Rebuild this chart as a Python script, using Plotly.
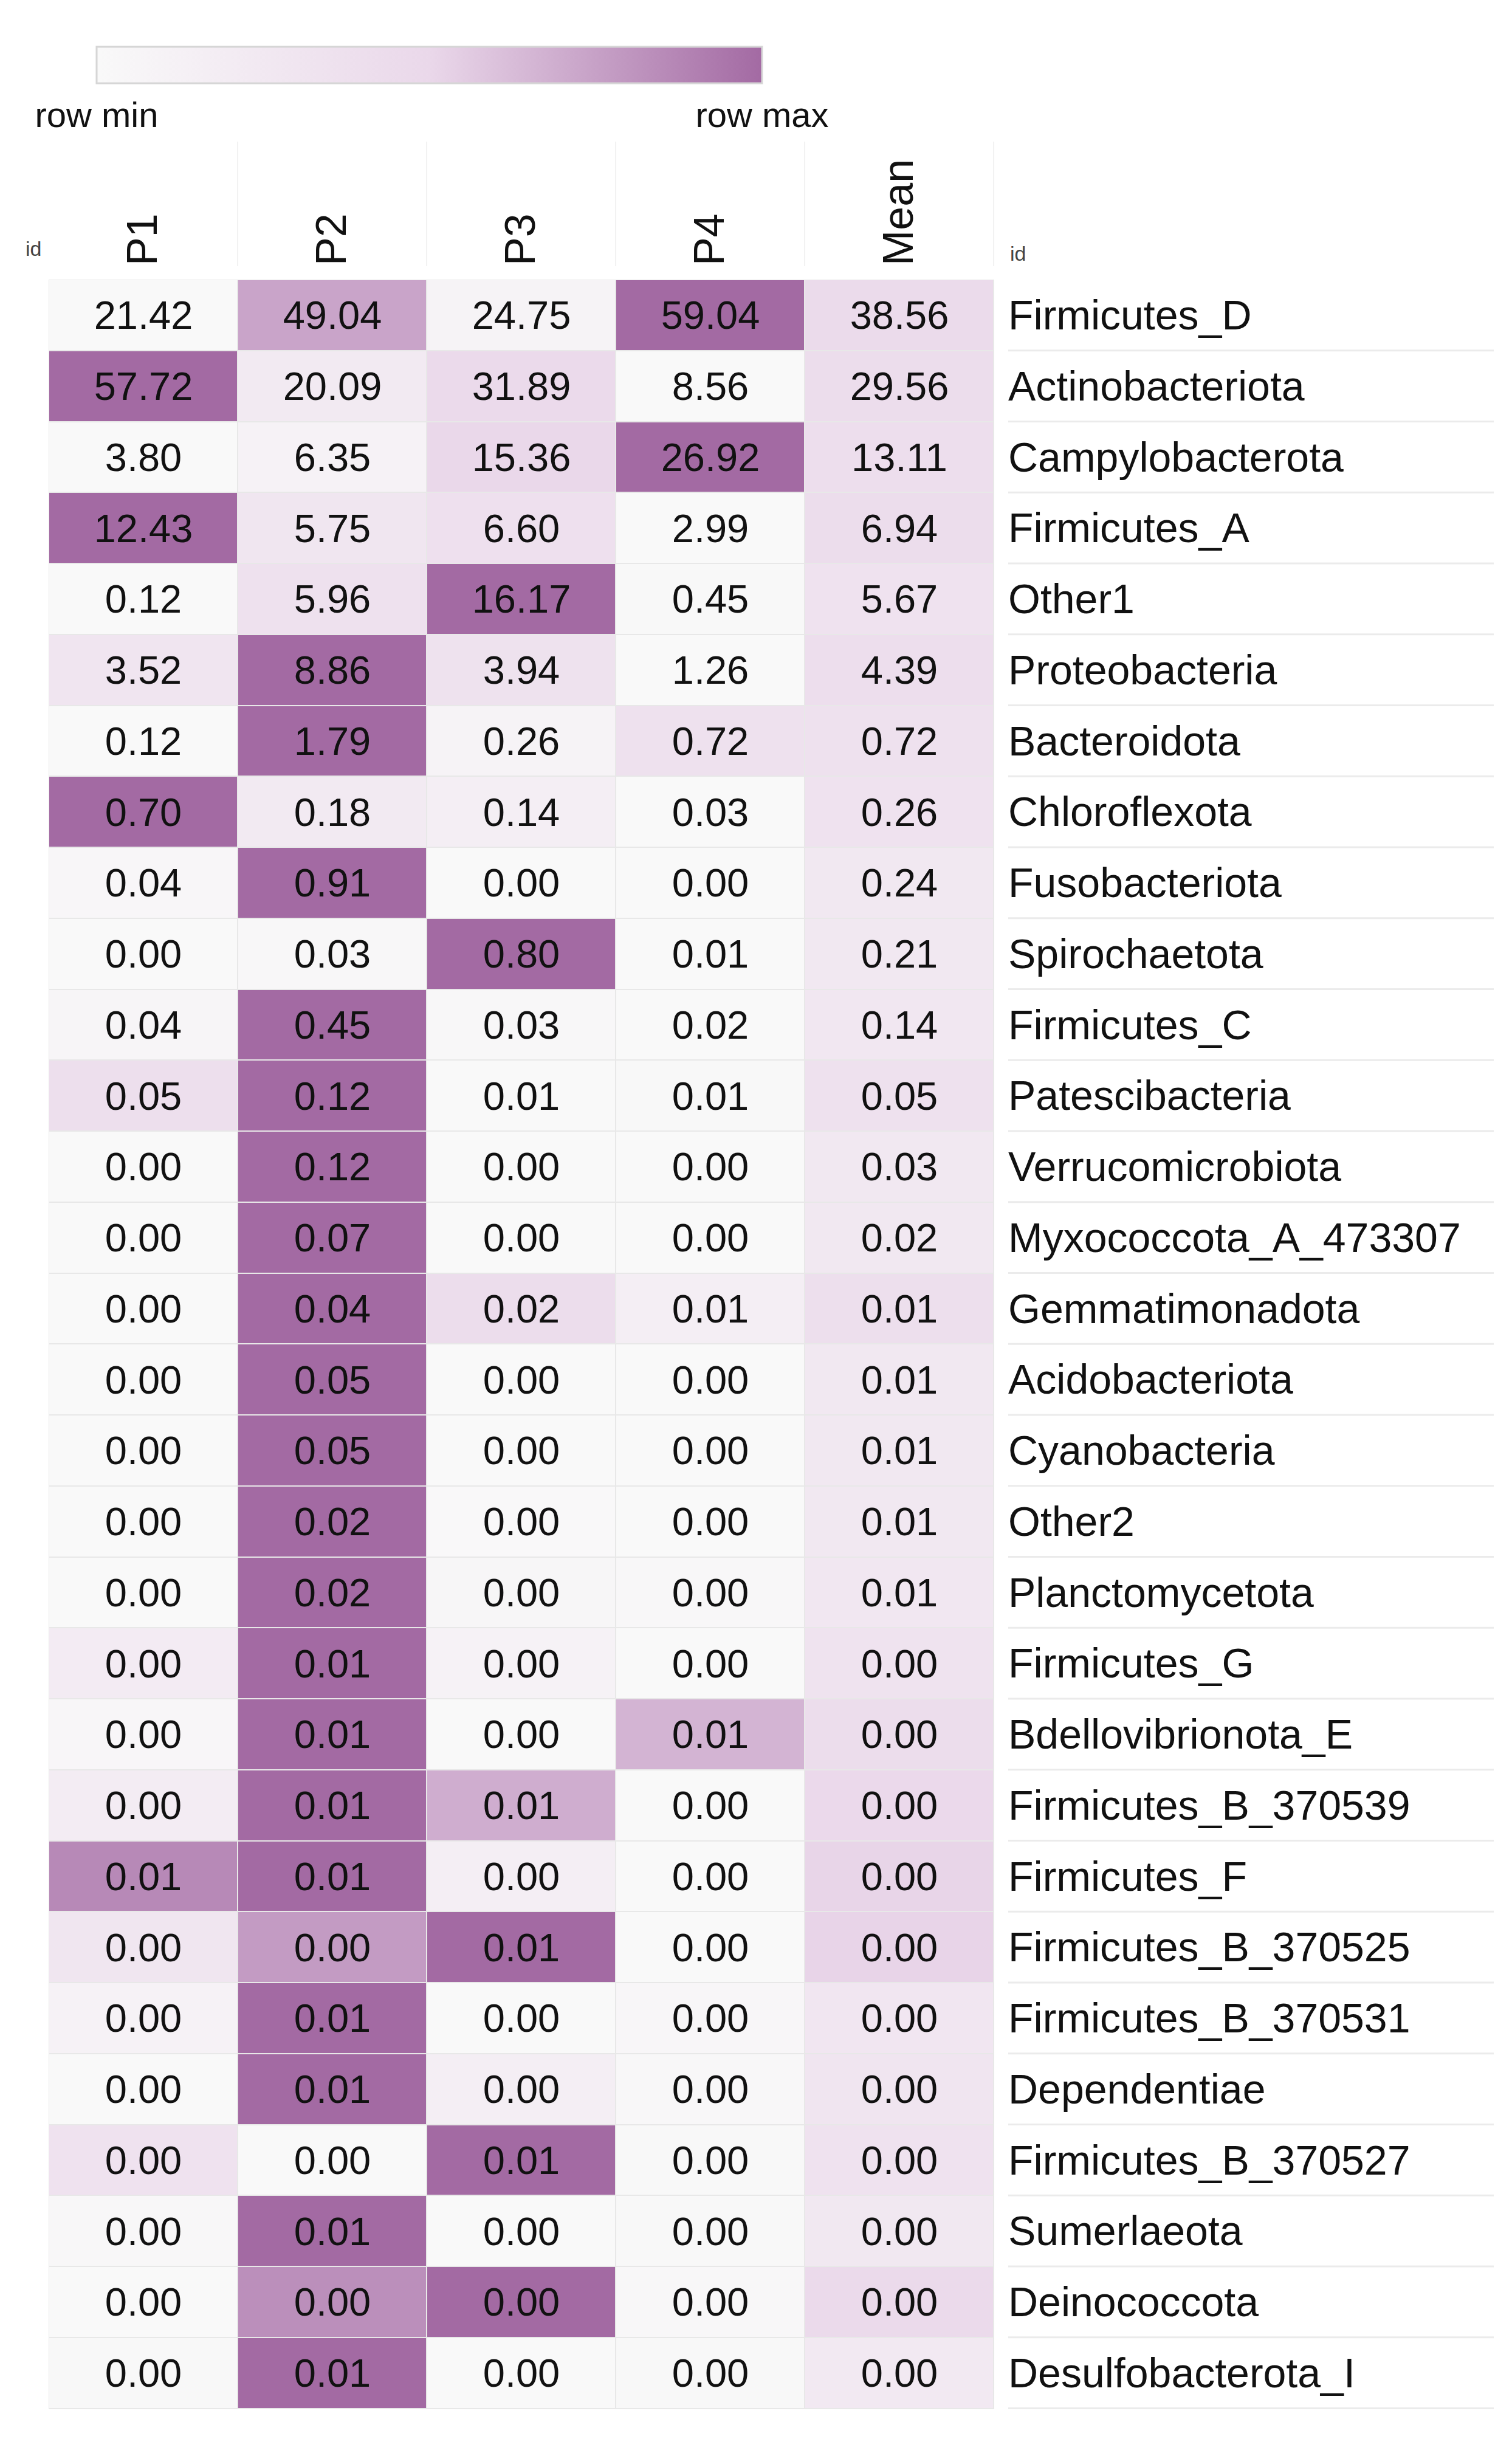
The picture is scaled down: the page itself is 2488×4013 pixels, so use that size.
import plotly.graph_objects as go

rows = ["Firmicutes_D", "Actinobacteriota", "Campylobacterota", "Firmicutes_A", "Other1",
        "Proteobacteria", "Bacteroidota", "Chloroflexota", "Fusobacteriota", "Spirochaetota",
        "Firmicutes_C", "Patescibacteria", "Verrucomicrobiota", "Myxococcota_A_473307",
        "Gemmatimonadota", "Acidobacteriota", "Cyanobacteria", "Other2", "Planctomycetota",
        "Firmicutes_G", "Bdellovibrionota_E", "Firmicutes_B_370539", "Firmicutes_F",
        "Firmicutes_B_370525", "Firmicutes_B_370531", "Dependentiae", "Firmicutes_B_370527",
        "Sumerlaeota", "Deinococcota", "Desulfobacterota_I"]
columns = ["P1", "P2", "P3", "P4", "Mean"]

P1 = [21.42, 57.72, 3.80, 12.43, 0.12, 3.52, 0.12, 0.70, 0.040, 0.002, 0.042, 0.052,
      0.0004, 0.0003, 0.0003, 0.0003, 0.0002, 0.0001, 0.0002, 0.0012, 0.0004, 0.0015,
      0.0060, 0.0017, 0.0006, 0.0000, 0.0020, 0.0002, 0.0000, 0.0001]
P2 = [49.04, 20.09, 6.35, 5.75, 5.96, 8.86, 1.79, 0.18, 0.910, 0.030, 0.452, 0.120,
      0.1200, 0.0700, 0.0360, 0.0480, 0.0500, 0.0210, 0.0200, 0.0058, 0.0080, 0.0075,
      0.0070, 0.0045, 0.0060, 0.0060, 0.0000, 0.0058, 0.0030, 0.0058]
P3 = [24.75, 31.89, 15.36, 6.60, 16.17, 3.94, 0.26, 0.14, 0.002, 0.800, 0.034, 0.008,
      0.0002, 0.0002, 0.0155, 0.0003, 0.0004, 0.0003, 0.0012, 0.0006, 0.0000, 0.0052,
      0.0012, 0.0058, 0.0000, 0.0010, 0.0058, 0.0000, 0.0036, 0.0000]
P4 = [59.04, 8.56, 26.92, 2.99, 0.45, 1.26, 0.72, 0.03, 0.001, 0.008, 0.018, 0.010,
      0.0002, 0.0001, 0.0060, 0.0001, 0.0002, 0.0001, 0.0008, 0.0000, 0.0053, 0.0000,
      0.0000, 0.0000, 0.0003, 0.0002, 0.0001, 0.0001, 0.0001, 0.0001]
Mean = [38.56, 29.56, 13.11, 6.94, 5.67, 4.39, 0.72, 0.26, 0.238, 0.210, 0.137, 0.048,
        0.0303, 0.0177, 0.0143, 0.0122, 0.0127, 0.0054, 0.0056, 0.0019, 0.0034, 0.0036,
        0.0036, 0.0030, 0.0017, 0.0018, 0.0020, 0.0015, 0.0017, 0.0014]

colorbar_labels = ["row min", "row max"]

# per-row relative scaling (row min -> row max)
table = [list(r) for r in zip(P1, P2, P3, P4, Mean)]
z = []
text = []
for r in table:
    lo, hi = min(r), max(r)
    rng = hi - lo if hi > lo else 1.0
    z.append([(v - lo) / rng for v in r])
    text.append([f"{v:.2f}" for v in r])

W, H = 2488, 4013
L, R = 72, 1628
T, B = 452, 3956
pw, ph = R - L, B - T

FONT = "Liberation Sans, Arial, Helvetica, sans-serif"

fig = go.Figure(go.Heatmap(
    z=z, x=columns, y=rows, text=text, texttemplate="%{text}",
    textfont=dict(size=65, color="#111111", family=FONT),
    zmin=0, zmax=1,
    colorscale=[[0.0, "#f9f9f9"], [0.5, "#ead8ea"], [1.0, "#a36aa3"]],
    xgap=2, ygap=2,
    colorbar=dict(
        orientation="h",
        x=(151 - L) / pw, xanchor="left",
        y=1 + (T - 69) / ph, yanchor="top",
        len=1095, lenmode="pixels",
        thickness=60, thicknessmode="pixels",
        outlinecolor="#d6d6d6", outlinewidth=3,
        tickvals=[0, 1], ticktext=colorbar_labels, ticks="",
        tickfont=dict(size=58, color="#111111", family=FONT),
        xpad=0, ypad=0,
    ),
    hoverinfo="skip",
))

shapes = []
# separator lines under row labels
for i in range(len(rows)):
    shapes.append(dict(type="line", xref="paper", yref="y",
                       x0=(1651 - L) / pw, x1=(2450 - L) / pw,
                       y0=i + 0.5, y1=i + 0.5,
                       line=dict(color="#ebebeb", width=3)))
# faint column separators in the header
for j in range(len(columns)):
    shapes.append(dict(type="line", xref="x", yref="paper",
                       x0=j + 0.5, x1=j + 0.5,
                       y0=1 + (T - 430) / ph, y1=1 + (T - 225) / ph,
                       line=dict(color="#f2f2f2", width=2)))

annotations = [
    dict(text="id", xref="paper", yref="paper", x=(32 - L) / pw, y=1 + (T - 422) / ph,
         xanchor="left", yanchor="bottom", showarrow=False,
         font=dict(size=34, color="#444444", family=FONT)),
    dict(text="id", xref="paper", yref="paper", x=(1652 - L) / pw, y=1 + (T - 430) / ph,
         xanchor="left", yanchor="bottom", showarrow=False,
         font=dict(size=34, color="#444444", family=FONT)),
]

fig.update_layout(
    width=W, height=H,
    margin=dict(l=L, r=W - R, t=T, b=H - B, pad=0),
    paper_bgcolor="white", plot_bgcolor="#e8e8e8",
    font=dict(family=FONT, color="#111111"),
    shapes=shapes, annotations=annotations,
    xaxis=dict(side="top", tickangle=-90, showgrid=False, zeroline=False, ticks="",
               tickfont=dict(size=70, color="#111111", family=FONT),
               ticklabelstandoff=22, showline=False),
    yaxis=dict(side="right", autorange="reversed", showgrid=False, zeroline=False,
               ticks="", tickfont=dict(size=68, color="#111111", family=FONT),
               ticklabelstandoff=22, showline=False),
)

fig.write_html("out.html")
